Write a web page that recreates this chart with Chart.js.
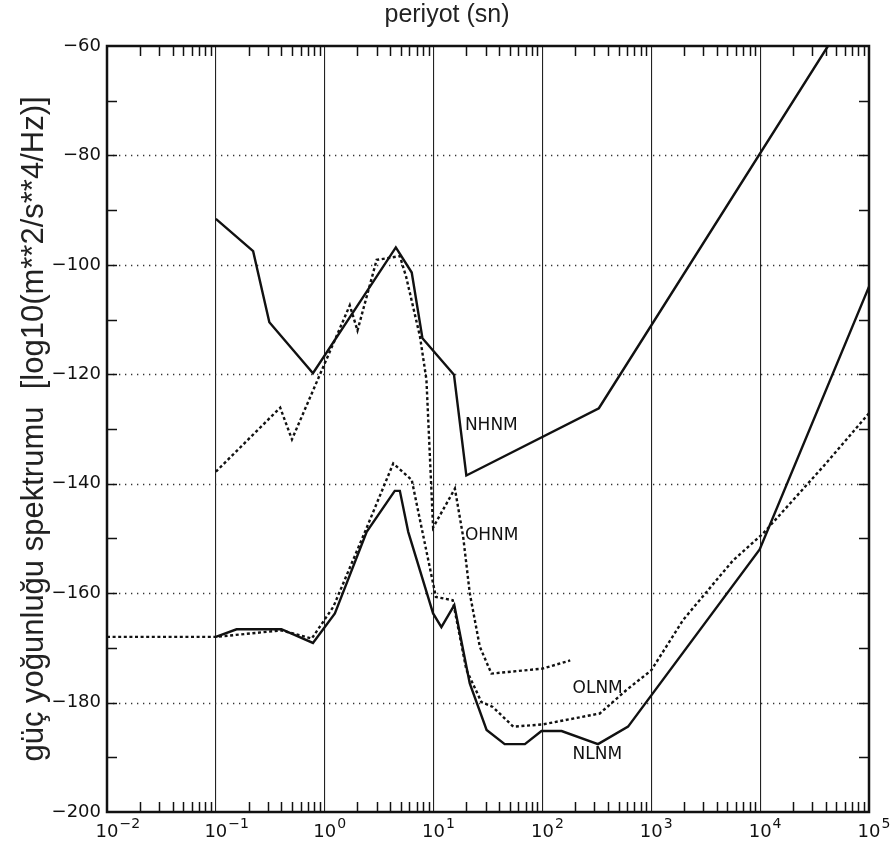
<!DOCTYPE html>
<html>
<head>
<meta charset="utf-8">
<script src="https://cdn.jsdelivr.net/npm/chart.js@4.4.1/dist/chart.umd.min.js"></script>
<style>
  html, body { margin: 0; padding: 0; background: #fff; }
</style>
</head>
<body>
<canvas id="noiseChart" width="894" height="848"></canvas>
<script>
// periods in seconds, power in dB (log10 m**2/s**4/Hz)
const nhnmPeriod = [0.1, 0.22, 0.31, 0.78, 4.5, 6.3, 7.9, 15.4, 20, 330, 42000];
const nhnmPower = [-91.6, -97.5, -110.5, -119.8, -96.8, -101.4, -113.4, -120.1, -138.5, -126.2, -60];

const nlnmPeriod = [0.1, 0.155, 0.4, 0.78, 1.24, 2.43, 4.4, 4.9, 5.85, 9.9, 11.8, 15.5, 21.5, 30.7, 45, 69, 98, 150, 324, 612, 9900, 100000];
const nlnmPower = [-168, -166.6, -166.6, -169.1, -163.7, -148.8, -141.3, -141.3, -148.8, -163.7, -166.2, -162.2, -176.5, -185, -187.6, -187.6, -185.2, -185.2, -187.6, -184.4, -152, -104];

const ohnmPeriod = [0.1, 0.39, 0.5, 1.7, 2.0, 3.0, 4.9, 5.6, 7.5, 8.6, 9.9, 15.7, 18.7, 21.5, 26.6, 34, 100, 180];
const ohnmPower = [-137.8, -126.1, -131.9, -107.4, -112, -99.1, -98.4, -102.2, -113.1, -121, -148, -140.9, -149.7, -160, -169.8, -174.7, -173.8, -172.3];

const olnmPeriod = [0.01, 0.1, 0.4, 0.76, 1.2, 2.4, 4.26, 6.3, 10.5, 15, 20, 27.5, 35, 54, 100, 336, 592, 1000, 1960, 5640, 10640, 37800, 100000];
const olnmPower = [-168, -168, -166.8, -168.3, -162.5, -148.3, -136.3, -139.3, -160.7, -161.3, -174, -179.9, -180.8, -184.4, -184, -182, -177.7, -174.1, -164.9, -154, -149.1, -136.9, -127.1];

const xTickValues = [0.01, 0.1, 1, 10, 100, 1000, 10000, 100000];
const xTickBase = "10";
const xTickExponents = ["-2", "-1", "0", "1", "2", "3", "4", "5"];
const yTickValues = [-200, -180, -160, -140, -120, -100, -80, -60];
const yTickLabels = ["\u2212200", "\u2212180", "\u2212160", "\u2212140", "\u2212120", "\u2212100", "\u221280", "\u221260"];

const curveNames = ["NHNM", "OHNM", "OLNM", "NLNM"];

const tickFont = { family: "DejaVu Sans", size: 18 };

const toPoints = (px, py) => px.map((p, i) => ({ x: p, y: py[i] }));

function curve(label, px, py, dash) {
  return {
    label,
    data: toPoints(px, py),
    showLine: true,
    borderColor: "#111",
    borderWidth: 2.4,
    borderDash: dash,
    pointRadius: 0,
    tension: 0,
  };
}

// dotted grid, inside ticks, frame, decade labels and the curve names
const plotDecor = {
  id: "plotDecor",
  beforeDatasetsDraw(chart) {
    const { ctx, chartArea: a, scales: { y } } = chart;
    ctx.save();
    ctx.strokeStyle = "#333";
    ctx.lineWidth = 1.3;
    ctx.setLineDash([1.3, 4.7]);
    for (let v = -180; v <= -80; v += 20) {
      const py = Math.round(y.getPixelForValue(v)) + 0.5;
      ctx.beginPath();
      ctx.moveTo(a.left, py);
      ctx.lineTo(a.right, py);
      ctx.stroke();
    }
    ctx.restore();
  },
  afterDatasetsDraw(chart, args, opts) {
    const { ctx, chartArea: a, scales: { x, y } } = chart;
    ctx.save();
    ctx.strokeStyle = "#111";
    ctx.lineWidth = 1.5;
    for (let d = -2; d < 5; d++) {
      for (let m = 2; m <= 9; m++) {
        const px = Math.round(x.getPixelForValue(m * Math.pow(10, d))) + 0.5;
        ctx.beginPath();
        ctx.moveTo(px, a.bottom);
        ctx.lineTo(px, a.bottom - 10);
        ctx.moveTo(px, a.top);
        ctx.lineTo(px, a.top + 10);
        ctx.stroke();
      }
    }
    for (let v = -190; v <= -70; v += 10) {
      const py = Math.round(y.getPixelForValue(v)) + 0.5;
      ctx.beginPath();
      ctx.moveTo(a.left, py);
      ctx.lineTo(a.left + 10, py);
      ctx.moveTo(a.right - 10, py);
      ctx.lineTo(a.right, py);
      ctx.stroke();
    }
    ctx.lineWidth = 2.5;
    ctx.strokeRect(a.left, a.top, a.right - a.left, a.bottom - a.top);

    ctx.fillStyle = "#111";
    ctx.textBaseline = "alphabetic";

    // 10 with a raised exponent under each decade line
    xTickValues.forEach((v, i) => {
      const px = x.getPixelForValue(v);
      ctx.font = "18px 'DejaVu Sans'";
      ctx.textAlign = "center";
      ctx.fillText(xTickBase, px, a.bottom + 25);
      const w = ctx.measureText(xTickBase).width;
      ctx.font = "14px 'DejaVu Sans'";
      ctx.textAlign = "left";
      ctx.fillText(xTickExponents[i].replace("-", "\u2212"), px + w / 2 + 1, a.bottom + 16);
    });

    ctx.font = "17px 'DejaVu Sans'";
    ctx.textAlign = "left";
    opts.anchors.forEach((p, i) => {
      ctx.fillText(curveNames[i], x.getPixelForValue(p[0]), y.getPixelForValue(p[1]));
    });
    ctx.restore();
  },
};

new Chart(document.getElementById("noiseChart"), {
  type: "scatter",
  data: {
    datasets: [
      curve("NHNM", nhnmPeriod, nhnmPower, []),
      curve("OHNM", ohnmPeriod, ohnmPower, [3, 2.6]),
      curve("OLNM", olnmPeriod, olnmPower, [3, 2.6]),
      curve("NLNM", nlnmPeriod, nlnmPower, []),
    ],
  },
  options: {
    responsive: false,
    animation: false,
    layout: { padding: 0 },
    plugins: {
      legend: { display: false },
      tooltip: { enabled: false },
      title: {
        display: true,
        text: "periyot (sn)",
        color: "#222",
        font: { family: "Liberation Sans", size: 25, weight: "normal" },
        padding: { top: 0, bottom: 16 },
      },
      plotDecor: {
        anchors: [[19.4, -130.2], [19.4, -150.3], [189, -178.3], [189, -190.4]],
      },
    },
    scales: {
      x: {
        type: "logarithmic",
        min: 0.01,
        max: 100000,
        afterBuildTicks: (s) => { s.ticks = xTickValues.map((v) => ({ value: v })); },
        afterFit: (s) => { s.height = 36; },
        grid: { color: "#222", lineWidth: 1.1, drawTicks: false },
        border: { display: false },
        ticks: { display: false },
      },
      y: {
        min: -200,
        max: -60,
        afterBuildTicks: (s) => { s.ticks = yTickValues.map((v) => ({ value: v })); },
        afterFit: (s) => { s.width = 107; },
        grid: { display: false, drawTicks: false },
        border: { display: false },
        ticks: {
          callback: (v, i) => yTickLabels[i],
          font: tickFont,
          color: "#111",
          padding: 6,
        },
        title: {
          display: true,
          text: "güç yoğunluğu spektrumu  [log10(m**2/s**4/Hz)]",
          color: "#222",
          font: { family: "Liberation Sans", size: 31 },
          padding: { top: 16, bottom: 0 },
        },
      },
      // empty right axis that only keeps the margin on the right
      yRight: {
        position: "right",
        min: -200,
        max: -60,
        afterFit: (s) => { s.width = 25; },
        grid: { display: false, drawTicks: false },
        border: { display: false },
        ticks: { display: false },
      },
    },
  },
  plugins: [plotDecor],
});
</script>
</body>
</html>
